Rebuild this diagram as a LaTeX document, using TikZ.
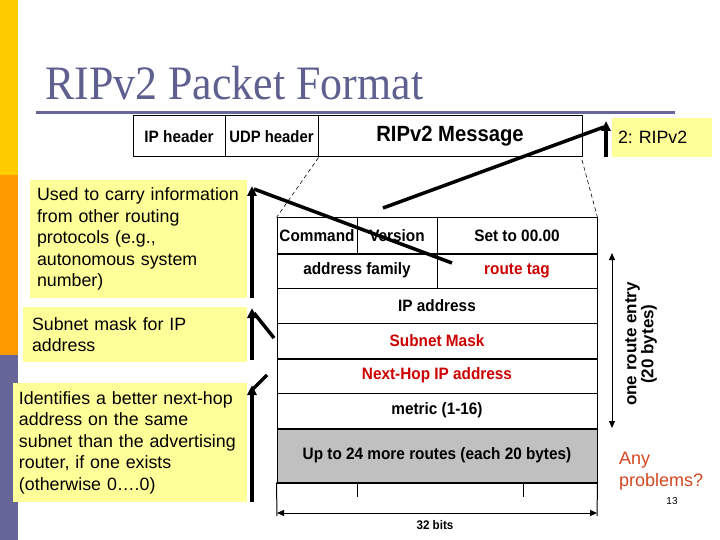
\documentclass[tikz,border=0pt]{standalone}
\usepackage{fontspec}
\setmainfont{Liberation Sans}
\newfontfamily\titlefont{Liberation Serif}
\usetikzlibrary{arrows.meta}
\definecolor{barY}{RGB}{255,204,0}
\definecolor{barO}{RGB}{255,153,0}
\definecolor{barP}{RGB}{102,102,153}
\definecolor{titleC}{RGB}{96,96,144}
\definecolor{noteY}{RGB}{255,255,153}
\definecolor{redT}{RGB}{204,0,0}
\definecolor{anyC}{RGB}{210,70,30}
\definecolor{grayF}{RGB}{192,192,192}
\newcommand{\cnd}[1]{\scalebox{0.93}[1]{#1}}
\tikzset{
  cell/.style={draw, line width=1pt, inner sep=0pt, font=\bfseries\fontsize{16.5}{16.5}\selectfont},
  thickrule/.style={line width=2pt},
  note/.style={fill=noteY, inner ysep=0pt, align=left, font=\fontsize{17.8}{21.5}\selectfont},
  accent/.style={line width=4pt, -{Triangle[length=10pt,width=9pt]}},
  pointer/.style={line width=3.5pt},
  zoomline/.style={dashed, dash pattern=on 4pt off 3pt, line width=0.6pt},
  dim/.style={line width=1pt, {Triangle[length=7pt,width=6pt]}-{Triangle[length=7pt,width=6pt]}}
}
\begin{document}
\frenchspacing
\begin{tikzpicture}[x=1pt,y=-1pt]
\useasboundingbox (0,0) rectangle (720,540);
% side bar
\fill[barY] (0,0) rectangle (18,175);
\fill[barO] (0,175) rectangle (18,355);
\fill[barP] (0,355) rectangle (18,540);
% title
\node[anchor=base west, text=titleC, inner sep=0pt, font=\titlefont\fontsize{48}{48}\selectfont] (title) at (45,100) {\scalebox{0.915}[1]{RIPv2 Packet Format}};
\draw[barP, line width=3pt] (36,113) -- (675,113);
% packet header
\node[cell, minimum width=92pt, minimum height=41pt] (iph) at (179,136.5) {\cnd{IP header}};
\node[cell, minimum width=93pt, minimum height=41pt] (udp) at (271.5,136.5) {\scalebox{0.9}[1]{UDP header}};
\node[cell, minimum width=264pt, minimum height=41pt, font=\bfseries\fontsize{22}{22}\selectfont] (msg) at (450,136.5) {\scalebox{0.92}[1]{RIPv2 Message}};
% table
\node[cell, minimum width=80pt, minimum height=35pt] (cmd) at (317,235.5) {\cnd{Command}};
\node[cell, minimum width=80pt, minimum height=35pt] (ver) at (397,235.5) {\cnd{Version}};
\node[cell, minimum width=160pt, minimum height=35pt] (set) at (517,235.5) {\cnd{Set to 00.00}};
\node[cell, minimum width=160pt, minimum height=35pt] (fam) at (357,270.5) {\cnd{address family}};
\node[cell, minimum width=160pt, minimum height=35pt, text=redT] (tag) at (517,270.5) {\cnd{route tag}};
\node[cell, minimum width=320pt, minimum height=35pt] (ipa) at (437,305.5) {\cnd{IP address}};
\node[cell, minimum width=320pt, minimum height=35pt, text=redT] (sub) at (437,340.5) {\cnd{Subnet Mask}};
\node[cell, minimum width=320pt, minimum height=35pt, text=redT] (nh) at (437,375.5) {\cnd{Next-Hop IP address}};
\node[cell, minimum width=320pt, minimum height=35pt] (met) at (437,410.5) {\cnd{metric (1-16)}};
\node[cell, minimum width=320pt, minimum height=54pt, fill=grayF] (more) at (437,455) {\cnd{Up to 24 more routes (each 20 bytes)}};
\draw[thickrule] (cmd.south west) -- (set.south east);
\draw[thickrule] (sub.south west) -- (sub.south east);
\draw[thickrule] (met.south west) -- (met.south east);
\draw[thickrule] (more.south west) -- (more.south east);
% width dimension
\coordinate (bl) at (277,516);
\coordinate (br) at (597,516);
\coordinate (tk1) at (357,497);
\coordinate (tk2) at (523,497);
\draw[line width=1pt] (more.south west) -- (bl);
\draw[line width=1pt] (more.south east) -- (br);
\draw[line width=1pt] (357,482) -- (tk1);
\draw[line width=1pt] (523,482) -- (tk2);
\coordinate (dl) at (277,513);
\coordinate (dr) at (597,513);
\draw[dim] (dl) -- (dr);
\node[font=\bfseries\fontsize{12.5}{12.5}\selectfont, inner sep=0pt] (bits) at (435,525) {\cnd{32 bits}};
% zoom lines
\coordinate (mr) at (582,160);
\draw[zoomline] (udp.south east) -- (cmd.north west);
\draw[zoomline] (mr) -- (set.north east);
% route entry dimension
\coordinate (ea) at (612,253);
\coordinate (eb) at (612,428);
\draw[dim] (ea) -- (eb);
\node[rotate=90, inner sep=0pt, align=center, font=\bfseries\fontsize{17}{17}\selectfont] (entry) at (641,344) {one route entry\\(20 bytes)};
% notes
\node[note, minimum width=217pt, minimum height=118pt, text width=203pt, inner xsep=7pt] (n1) at (138.5,239) {Used to carry information\\from other routing\\protocols (e.g.,\\autonomous system\\number)};
\node[note, minimum width=224pt, minimum height=55pt, text width=206pt, inner xsep=9pt] (n2) at (135,334.5) {Subnet mask for IP\\address};
\node[note, minimum width=234pt, minimum height=119pt, text width=222pt, inner xsep=6pt] (n3) at (130,442.5) {Identifies a better next-hop\\address on the same\\subnet than the advertising\\router, if one exists\\(otherwise 0\dots.0)};
\node[note, minimum width=100pt, minimum height=39pt, text width=88pt, inner xsep=6pt] (n4) at (662,137.5) {2: RIPv2};
% callouts
\coordinate (a1b) at (252,298);
\coordinate (a1t) at (252,186);
\coordinate (p1) at (452,263);
\draw[accent] (a1b) -- (a1t);
\draw[pointer] (254,189) -- (p1);
\coordinate (a2b) at (252,360);
\coordinate (a2t) at (252,308);
\coordinate (p2) at (274,338);
\draw[accent] (a2b) -- (a2t);
\draw[pointer] (254,313) -- (p2);
\coordinate (a3b) at (252,502);
\coordinate (a3t) at (252,385);
\coordinate (p3) at (267,375);
\draw[accent] (a3b) -- (a3t);
\draw[pointer] (253,389) -- (p3);
\coordinate (a4b) at (606,157);
\coordinate (a4t) at (606,121);
\coordinate (p4) at (383,208);
\draw[accent] (a4b) -- (a4t);
\draw[pointer] (p4) -- (604,127);
% other text
\node[anchor=north west, inner sep=0pt, align=left, text=anyC, font=\fontsize{18}{22}\selectfont] (any) at (619,452) {Any\\problems?};
\node[inner sep=0pt, font=\fontsize{10}{10}\selectfont] (pg) at (672,501) {13};
\end{tikzpicture}
\end{document}
